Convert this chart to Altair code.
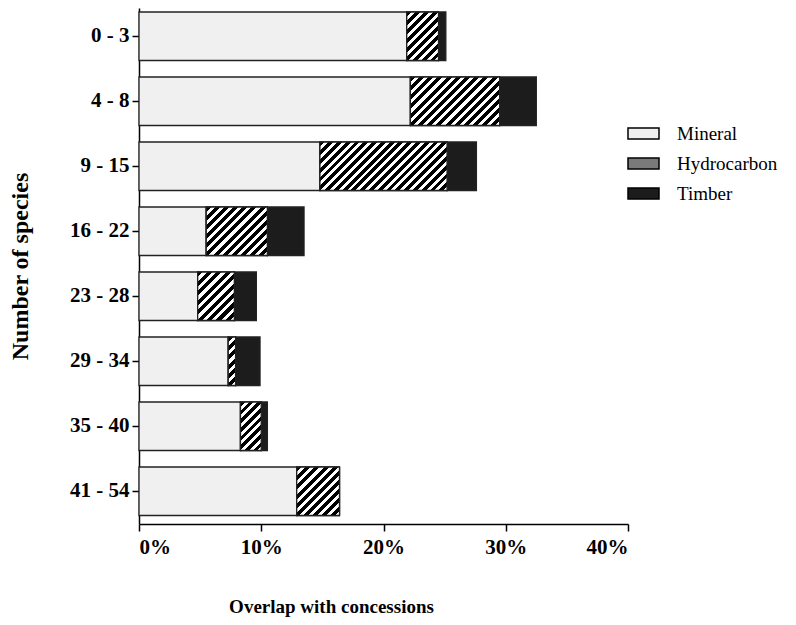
import altair as alt
import pandas as pd

# ---- data ----
groups = ["0 - 3", "4 - 8", "9 - 15", "16 - 22", "23 - 28", "29 - 34", "35 - 40", "41 - 54"]
series = ["Mineral", "Hydrocarbon", "Timber"]
mineral = [21.9, 22.2, 14.8, 5.5, 4.8, 7.3, 8.3, 12.9]
hydrocarbon = [2.6, 7.3, 10.4, 5.0, 3.0, 0.6, 1.7, 3.5]
timber = [0.6, 3.0, 2.4, 3.0, 1.8, 2.0, 0.5, 0.0]
x_ticks = [0, 10, 20, 30, 40]

rows = []
for i, g in enumerate(groups):
    start = 0.0
    for s, vals in zip(series, [mineral, hydrocarbon, timber]):
        v = vals[i]
        rows.append({"group": g, "series": s, "start": start, "end": start + v, "value": v})
        start += v
df = pd.DataFrame(rows)

# ---- layout ----
W_PLOT, H_PLOT = 489, 516
X_MAX = 40
PAD_INNER, PAD_OUTER, ALIGN = 0.254, 0.096, 0.32
step = H_PLOT / (len(groups) - PAD_INNER + 2 * PAD_OUTER)
band = step * (1 - PAD_INNER)
FONT = "Liberation Serif"


def hatch(width_px, height_px, period=9.0, dark=0.55):
    n = max(1, round((width_px + height_px) / period))
    stops = []
    for k in range(n):
        a, b, c = k / n, (k + dark) / n, (k + 1) / n
        stops += [
            {"offset": a, "color": "black"},
            {"offset": b, "color": "black"},
            {"offset": b, "color": "white"},
            {"offset": c, "color": "white"},
        ]
    s = (width_px + height_px) / (width_px ** 2 + height_px ** 2)
    return {"gradient": "linear", "stops": stops,
            "x1": 0, "y1": 0, "x2": width_px * s, "y2": height_px * s}


y_enc = alt.Y("group:N", sort=groups,
              scale=alt.Scale(paddingInner=PAD_INNER, paddingOuter=PAD_OUTER, align=ALIGN),
              axis=alt.Axis(title="Number of species", titleFont=FONT, titleFontSize=24,
                            titleFontWeight="bold", titleColor="black", titleAngle=270,
                            titleX=-112, titleY=H_PLOT / 2, titleAlign="center",
                            titleBaseline="alphabetic",
                            labelFont=FONT, labelFontSize=21, labelFontWeight="bold",
                            labelColor="black", labelPadding=3, tickSize=7,
                            tickColor="black", tickWidth=1.5, domainColor="black",
                            domainWidth=1.5))
x_enc = alt.X("start:Q", scale=alt.Scale(domain=[0, X_MAX], nice=False),
              axis=alt.Axis(values=x_ticks, labelExpr="datum.value + '%'",
                            title="Overlap with concessions", titleFont=FONT,
                            titleFontSize=19, titleFontWeight="bold", titleColor="black",
                            titleX=192, titleY=88, titleAlign="center",
                            titleBaseline="alphabetic",
                            labelFont=FONT, labelFontSize=21, labelFontWeight="bold",
                            labelColor="black", labelPadding=5, tickSize=7,
                            tickColor="black", tickWidth=1.5, domainColor="black",
                            domainWidth=1.5, grid=False))
x2_enc = alt.X2("end:Q")

base = alt.Chart(df).encode(y=y_enc, x=x_enc, x2=x2_enc)

bars = base.mark_bar(stroke="#222222", strokeWidth=1.3).encode(
    color=alt.Color("series:N",
                    scale=alt.Scale(domain=series, range=["#f0f0f0", "#7a7a7a", "#1c1c1c"]),
                    legend=alt.Legend(title=None, orient="none", legendX=495, legendY=116,
                                      symbolType="M-3.1,-1.1H3.1V1.1H-3.1Z", symbolSize=100,
                                      symbolStrokeColor="black", symbolStrokeWidth=1.5,
                                      labelFont=FONT, labelFontSize=19, labelColor="black",
                                      labelOffset=24, rowPadding=10, padding=0))
)

layers = [bars]
for i, g in enumerate(groups):
    v = hydrocarbon[i]
    if v <= 0:
        continue
    w = v * W_PLOT / X_MAX
    layers.append(
        base.transform_filter(
            alt.FieldEqualPredicate(field="group", equal=g)
        ).transform_filter(
            alt.FieldEqualPredicate(field="series", equal="Hydrocarbon")
        ).mark_bar(fill=hatch(w, band), stroke="#222222", strokeWidth=1.3)
    )

chart = alt.layer(*layers).properties(
    width=W_PLOT, height=H_PLOT,
    background="white",
    autosize=alt.AutoSizeParams(type="none"),
    padding={"left": 131, "top": 0, "right": 160, "bottom": 93},
).configure(font=FONT).configure_view(stroke=None).configure_legend(
    labelFont=FONT
).configure_axis(labelFont=FONT, titleFont=FONT)

chart.save("out.html", embed_options={"renderer": "svg", "actions": False})
